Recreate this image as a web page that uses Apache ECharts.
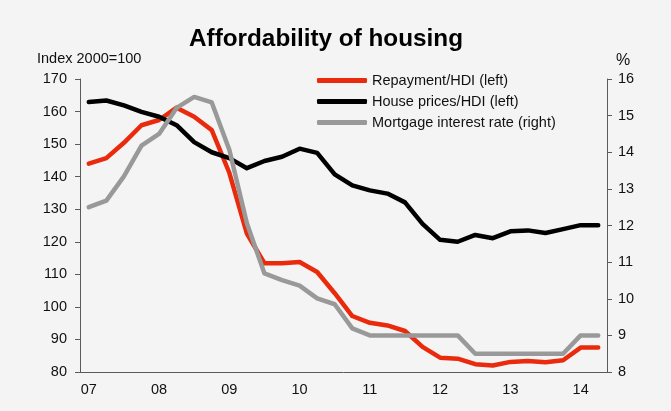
<!DOCTYPE html>
<html>
<head>
<meta charset="utf-8">
<script src="https://cdn.jsdelivr.net/npm/echarts@6/dist/echarts.min.js"></script>
<style>
  html, body { margin: 0; padding: 0; background: #f4f4f4; }
  #chart { width: 671px; height: 411px; }
</style>
</head>
<body>
<div id="chart"></div>
<script>
// Quarterly observations, 2007 Q1 – 2014 Q2
const quarters = [
  '07Q1','07Q2','07Q3','07Q4','08Q1','08Q2','08Q3','08Q4',
  '09Q1','09Q2','09Q3','09Q4','10Q1','10Q2','10Q3','10Q4',
  '11Q1','11Q2','11Q3','11Q4','12Q1','12Q2','12Q3','12Q4',
  '13Q1','13Q2','13Q3','13Q4','14Q1','14Q2'
];

// Repayment relative to household disposable income (index 2000=100)
const repaymentHDI = [
  144.0, 145.7, 150.4, 155.8, 157.4, 161.2, 158.4, 154.3,
  141.2, 122.5, 113.4, 113.4, 113.8, 110.7, 104.2, 97.2,
  95.1, 94.3, 92.6, 87.7, 84.4, 84.1, 82.4, 82.0,
  83.1, 83.4, 83.0, 83.6, 87.5, 87.5
];

// House prices relative to household disposable income (index 2000=100)
const housePricesHDI = [
  162.9, 163.4, 161.9, 159.9, 158.4, 155.8, 150.6, 147.5,
  145.7, 142.6, 144.8, 146.1, 148.6, 147.3, 140.7, 137.3,
  135.8, 134.8, 132.1, 125.5, 120.6, 120.0, 122.1, 121.1,
  123.2, 123.5, 122.7, 123.9, 125.1, 125.1
];

// Mortgage interest rate, %
const mortgageRate = [
  12.5, 12.68, 13.34, 14.18, 14.5, 15.21, 15.51, 15.36,
  14.07, 12.06, 10.69, 10.51, 10.36, 10.01, 9.85, 9.19,
  9.0, 9.0, 9.0, 9.0, 9.0, 9.0, 8.5, 8.5,
  8.5, 8.5, 8.5, 8.5, 9.0, 9.0
];

const seriesNames = ['Repayment/HDI (left)', 'House prices/HDI (left)', 'Mortgage interest rate (right)'];

const FONT = 'Liberation Sans, Arial, sans-serif';
const AXIS_COLOR = '#5a5a5a';
const TEXT_COLOR = '#111';

const chart = echarts.init(document.getElementById('chart'), null, { renderer: 'canvas' });

chart.setOption({
  backgroundColor: '#f4f4f4',
  animation: false,
  textStyle: { fontFamily: FONT },
  title: {
    text: 'Affordability of housing',
    left: 184,
    top: 22,
    textStyle: { fontFamily: FONT, fontSize: 24.3, fontWeight: 'bold', color: '#000' }
  },
  graphic: [
    {
      type: 'text', left: 37, top: 51,
      style: { text: 'Index 2000=100', font: '14.5px ' + FONT, fill: TEXT_COLOR }
    },
    {
      type: 'text', left: 616, top: 53,
      style: { text: '%', font: '16px ' + FONT, fill: TEXT_COLOR }
    }
  ],
  legend: {
    orient: 'vertical',
    left: 317,
    top: 72.5,
    padding: 0,
    itemWidth: 50,
    itemHeight: 5,
    itemGap: 5,
    icon: 'roundRect',
    data: seriesNames,
    textStyle: { fontFamily: FONT, fontSize: 14.5, color: TEXT_COLOR, lineHeight: 16 }
  },
  grid: { left: 80, right: 64, top: 79, bottom: 39 },
  xAxis: {
    type: 'category',
    data: quarters,
    boundaryGap: true,
    axisLine: { lineStyle: { color: AXIS_COLOR, width: 1 } },
    axisTick: { inside: true, length: 4, interval: 3, lineStyle: { color: AXIS_COLOR } },
    axisLabel: {
      interval: 3,
      margin: 10,
      fontSize: 14.5,
      color: TEXT_COLOR,
      formatter: v => v.slice(0, 2)
    },
    splitLine: { show: false }
  },
  yAxis: [
    {
      type: 'value',
      position: 'left',
      min: 80, max: 170, interval: 10,
      axisLine: { show: true, lineStyle: { color: AXIS_COLOR, width: 1 } },
      axisTick: { show: true, length: 5, lineStyle: { color: AXIS_COLOR } },
      axisLabel: { margin: 13, fontSize: 14.5, color: TEXT_COLOR },
      splitLine: { show: false }
    },
    {
      type: 'value',
      position: 'right',
      min: 8, max: 16, interval: 1,
      axisLine: { show: true, lineStyle: { color: AXIS_COLOR, width: 1 } },
      axisTick: { show: true, length: 5, lineStyle: { color: AXIS_COLOR } },
      axisLabel: { margin: 11, fontSize: 14.5, color: TEXT_COLOR },
      splitLine: { show: false }
    }
  ],
  series: [
    {
      name: seriesNames[0], type: 'line', yAxisIndex: 0,
      data: repaymentHDI, showSymbol: false, symbol: 'none',
      itemStyle: { color: '#ea2a0c' },
      lineStyle: { color: '#ea2a0c', width: 4.5, cap: 'round', join: 'round' }
    },
    {
      name: seriesNames[1], type: 'line', yAxisIndex: 0,
      data: housePricesHDI, showSymbol: false, symbol: 'none',
      itemStyle: { color: '#000000' },
      lineStyle: { color: '#000000', width: 4.5, cap: 'round', join: 'round' }
    },
    {
      name: seriesNames[2], type: 'line', yAxisIndex: 1,
      data: mortgageRate, showSymbol: false, symbol: 'none',
      itemStyle: { color: '#999999' },
      lineStyle: { color: '#999999', width: 4.5, cap: 'round', join: 'round' }
    }
  ]
});
</script>
</body>
</html>
